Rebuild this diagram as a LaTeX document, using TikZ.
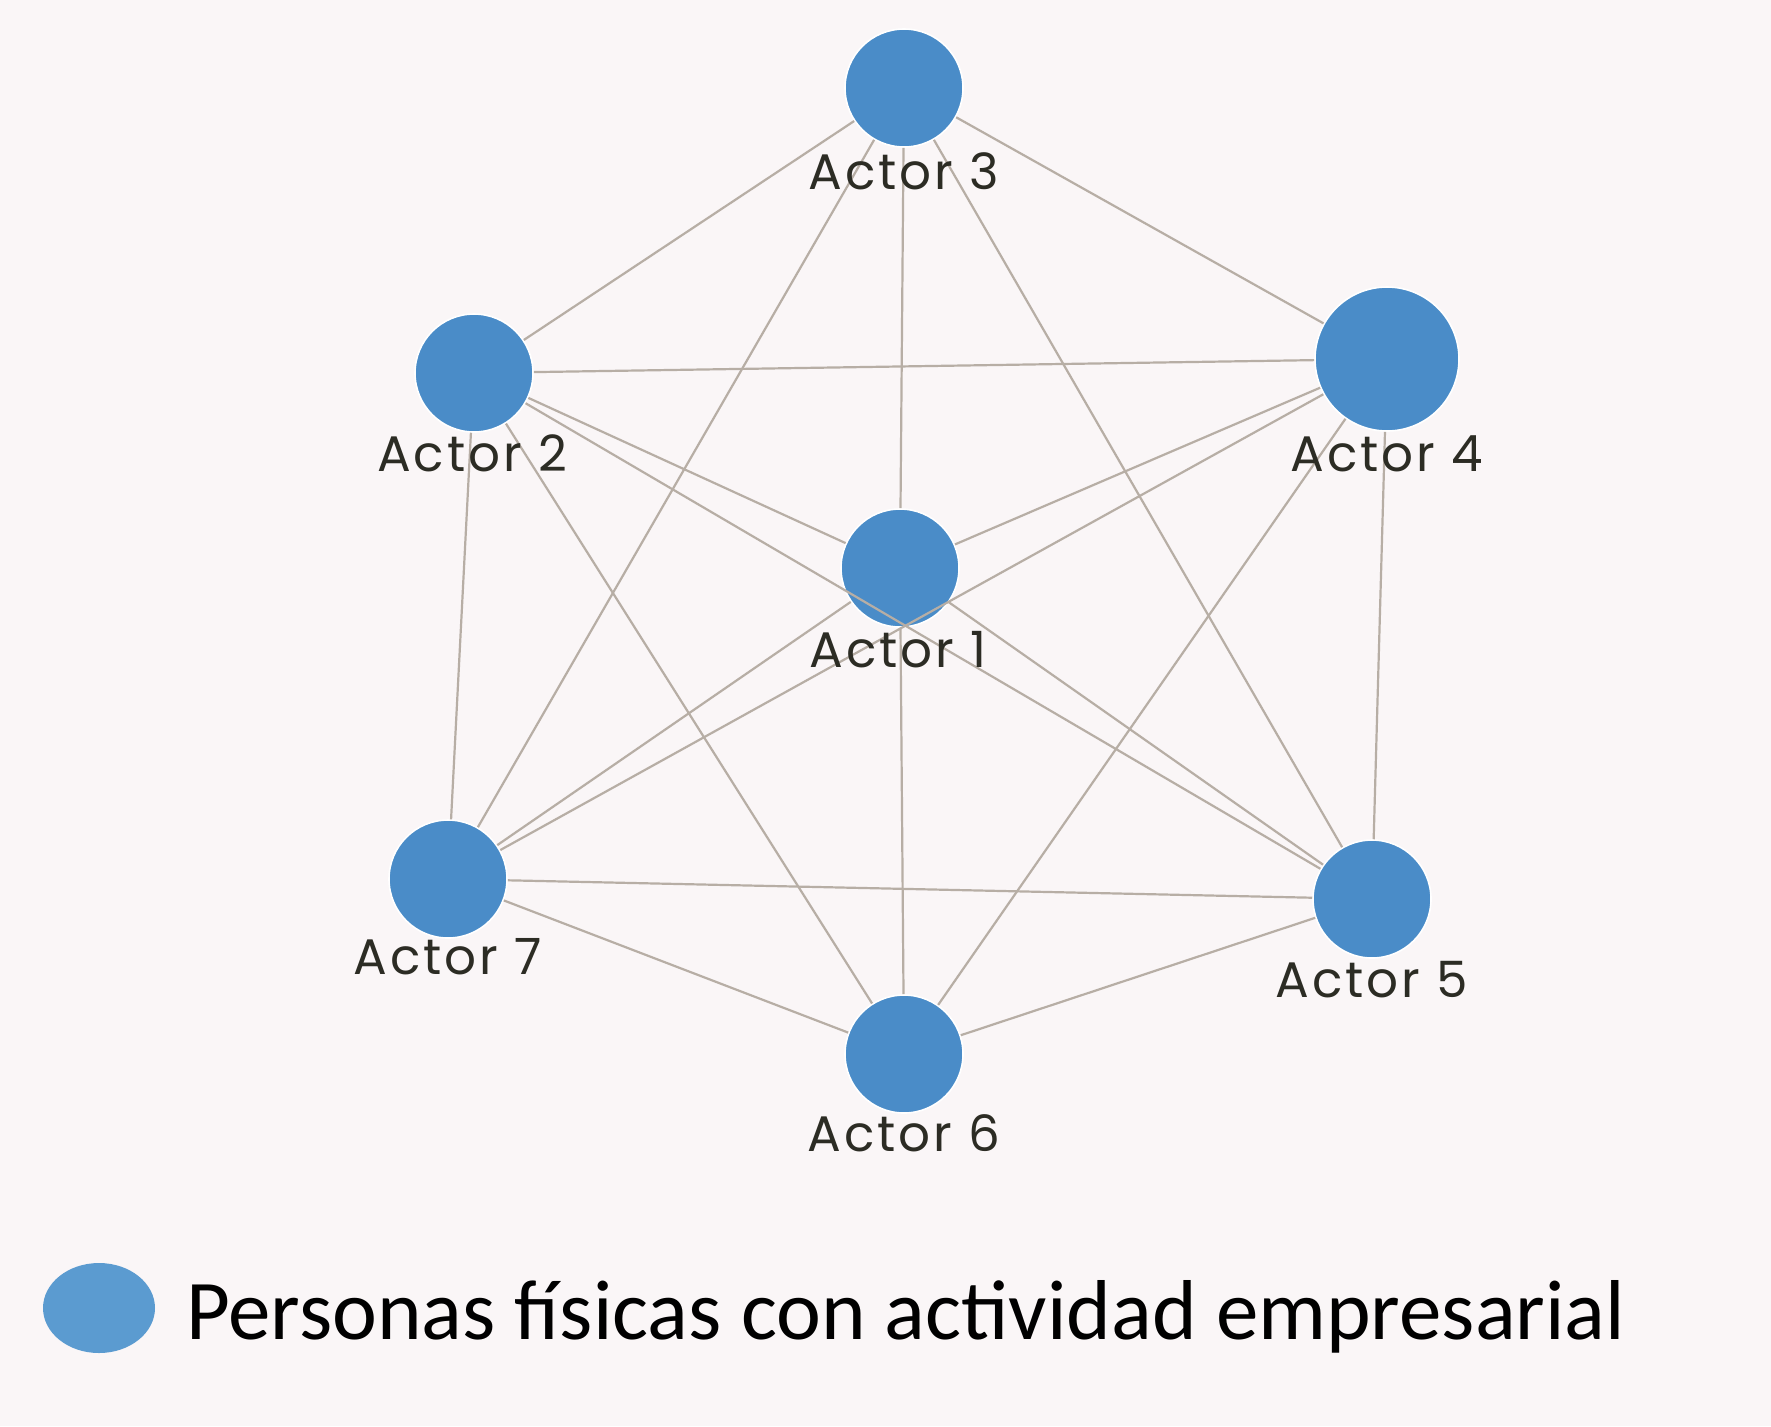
\documentclass[tikz,border=0pt]{standalone}
\usepackage{fontspec}
\usetikzlibrary{shapes.geometric}
\setmainfont{Poppins}
\newfontfamily\labfont[LetterSpace=6]{Poppins}
\newfontfamily\legendfont{Carlito}
\definecolor{bgc}{HTML}{FAF6F7}
\definecolor{nodec}{HTML}{4A8CC8}
\definecolor{legc}{HTML}{5B9BD0}
\definecolor{edgec}{HTML}{B7AEA5}
\definecolor{labc}{HTML}{2C2C24}
\begin{document}
\begin{tikzpicture}[x=0.5pt,y=-0.5pt,
  actor/.style={circle,fill=nodec,draw=white,line width=0.8pt,inner sep=0pt,minimum size=#1},
  lab/.style={text=labc,font=\labfont\fontsize{25}{28}\selectfont,inner sep=0pt,anchor=base},
  edge/.style={draw=edgec,line width=1.1pt}]
\fill[bgc] (0,0) rectangle (1771,1426);
\useasboundingbox (0,0) rectangle (1771,1426);
\node[actor=59pt] (a3) at (904,88) {};
\node[actor=59pt] (a2) at (474,373) {};
\node[actor=72pt] (a4) at (1387,359) {};
\node[actor=59pt] (a1) at (900,568) {};
\node[actor=59pt] (a7) at (448,879) {};
\node[actor=59pt] (a5) at (1372,899) {};
\node[actor=59pt] (a6) at (904,1054) {};
\foreach \i/\j in {a1/a2,a1/a3,a1/a4,a1/a5,a1/a6,a1/a7,
  a2/a3,a2/a4,a2/a5,a2/a6,a2/a7,
  a3/a4,a3/a5,a3/a7,
  a4/a5,a4/a6,a4/a7,
  a5/a6,a5/a7,a6/a7}
  \draw[edge] (\i) -- (\j);
\node[lab] (l3) at (904,189) {Actor 3};
\node[lab] (l2) at (472,471) {Actor 2};
\node[lab] (l4) at (1387,471) {Actor 4};
\node[lab] (l1) at (898,667) {Actor 1};
\node[lab] (l7) at (448,974) {Actor 7};
\node[lab] (l5) at (1372,997) {Actor 5};
\node[lab] (l6) at (904,1151) {Actor 6};
\node[ellipse,fill=legc,inner sep=0pt,minimum width=56pt,minimum height=45pt] (leg) at (99,1308) {};
\node[anchor=base west,inner sep=0pt,font=\legendfont\fontsize{42.5}{46}\selectfont,text=black] (legt) at (186,1339) {Personas físicas con actividad empresarial};
\end{tikzpicture}
\end{document}
